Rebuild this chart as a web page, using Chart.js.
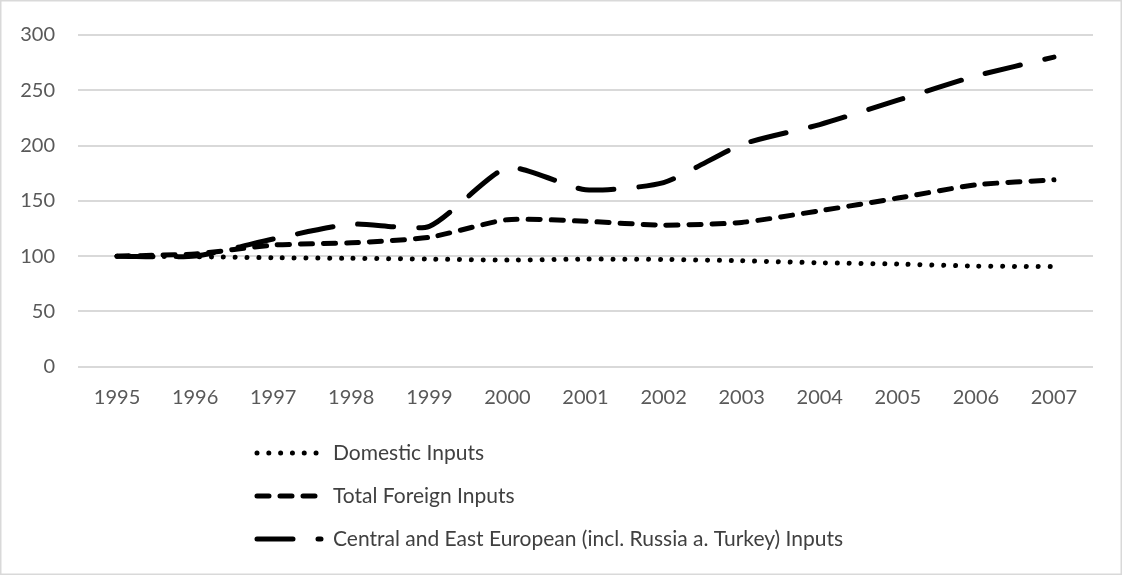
<!DOCTYPE html>
<html>
<head>
<meta charset="utf-8">
<title>Inputs index 1995-2007</title>
<script src="https://cdn.jsdelivr.net/npm/chart.js@4/dist/chart.umd.min.js"></script>
<style>
  html, body { margin: 0; padding: 0; background: #fff; }
  #wrap { width: 1122px; height: 575px; }
</style>
</head>
<body>
<div id="wrap"><canvas id="chart" width="1122" height="575"></canvas></div>
<script>
// years on the x axis
const years = ['1995', '1996', '1997', '1998', '1999', '2000', '2001',
               '2002', '2003', '2004', '2005', '2006', '2007'];

// index values (1995 = 100)
const domesticInputs = [100, 99.5, 98.5, 98, 97.3, 96.4, 97.3, 97, 95.8, 94, 92.8, 91, 90.5];
const totalForeignInputs = [100, 102, 110, 112, 117, 133, 131.5, 128, 130.5, 141, 152.5, 164.5, 169];
const ceeInputs = [100, 100, 115.5, 129, 127, 180, 160, 166.5, 201, 219, 241, 263, 280];

const seriesNames = [
    'Domestic Inputs',
    'Total Foreign Inputs',
    'Central and East European (incl. Russia a. Turkey) Inputs'
];

const yTicks = { min: 0, max: 300, step: 50 };

const FONT = 'Lato, "Open Sans", sans-serif';

// legend drawn by hand, one entry per row, left aligned under the plot
const stackedLegend = {
    id: 'stackedLegend',
    afterDraw(chart) {
        const ctx = chart.ctx;
        const x0 = 257, x1 = 317, textX = 333;
        const rowsY = [453, 496, 539];
        chart.data.datasets.forEach((ds, i) => {
            const y = rowsY[i];
            ctx.save();
            ctx.strokeStyle = ds.borderColor;
            ctx.lineWidth = ds.borderWidth;
            ctx.lineCap = 'round';
            ctx.setLineDash(ds.borderDash);
            ctx.beginPath();
            ctx.moveTo(x0, y);
            ctx.lineTo(i === 2 ? x1 + 4 : x1, y);
            ctx.stroke();
            ctx.restore();

            ctx.save();
            ctx.fillStyle = '#404040';
            ctx.font = '21px ' + FONT;
            ctx.textBaseline = 'middle';
            ctx.fillText(ds.label, textX, y);
            ctx.restore();
        });
    }
};

// light grey frame around the whole chart
const frame = {
    id: 'frame',
    afterDraw(chart) {
        const ctx = chart.ctx;
        ctx.save();
        ctx.strokeStyle = '#d9d9d9';
        ctx.lineWidth = 1.5;
        ctx.strokeRect(0.75, 0.75, chart.width - 1.5, chart.height - 1.5);
        ctx.restore();
    }
};

const lineDefaults = {
    borderColor: '#000',
    borderWidth: 5,
    borderCapStyle: 'round',
    borderJoinStyle: 'round',
    pointRadius: 0,
    pointHoverRadius: 0,
    fill: false,
    tension: 0.2
};

new Chart(document.getElementById('chart'), {
    type: 'line',
    data: {
        labels: years,
        datasets: [
            { ...lineDefaults, label: seriesNames[0], data: domesticInputs, borderWidth: 5, borderDash: [0.01, 11.8] },
            { ...lineDefaults, label: seriesNames[1], data: totalForeignInputs, borderDash: [12, 11] },
            { ...lineDefaults, label: seriesNames[2], data: ceeInputs, borderDash: [36, 25] }
        ]
    },
    options: {
        responsive: false,
        animation: false,
        devicePixelRatio: 1,
        layout: { padding: { left: 0, right: 29, top: 29.5, bottom: 160 } },
        plugins: {
            legend: { display: false },
            tooltip: { enabled: false }
        },
        scales: {
            x: {
                offset: true,
                grid: { display: false, drawTicks: false },
                border: { display: false },
                ticks: { color: '#595959', font: { family: FONT, size: 20 }, padding: 19, maxRotation: 0 },
                afterFit: (scale) => { scale.height = 48.3; }
            },
            y: {
                min: yTicks.min,
                max: yTicks.max,
                grid: { color: '#d9d9d9', lineWidth: 2, drawTicks: false },
                border: { display: false },
                ticks: { stepSize: yTicks.step, color: '#595959', font: { family: FONT, size: 20 }, padding: 23 },
                afterFit: (scale) => { scale.width = 78; }
            }
        }
    },
    plugins: [stackedLegend, frame]
});
</script>
</body>
</html>
